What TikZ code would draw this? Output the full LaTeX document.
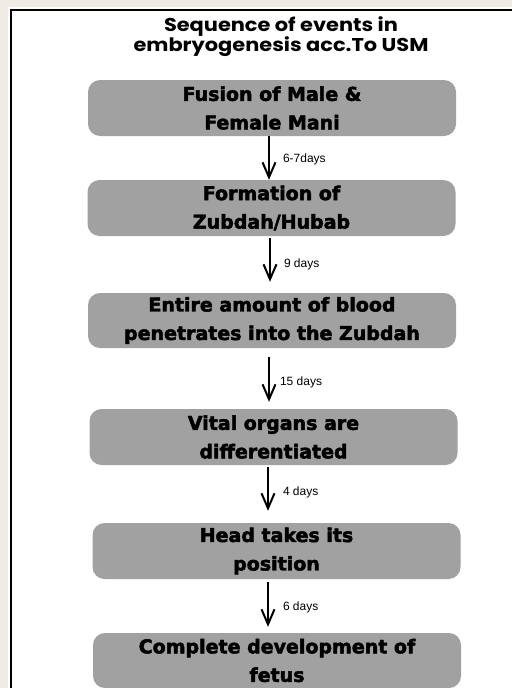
\documentclass[tikz,border=0pt]{standalone}
\usepackage{fontspec}
\setmainfont{DejaVu Sans}[BoldFeatures={FakeBold=2.5}]
\newfontfamily\labelfont{Liberation Sans}
\newfontfamily\titlefont{Poppins}[FakeStretch=1.13]
\usetikzlibrary{arrows.meta,positioning}
\definecolor{marble}{RGB}{239,235,228}
\definecolor{boxgray}{RGB}{161,161,161}

\begin{document}
\begin{tikzpicture}[
  x=1pt, y=-1pt,
  >={Straight Barb[length=15pt,width=13pt]},
  stepbox/.style={fill=boxgray, rounded corners=12pt, align=center, inner sep=0pt,
    minimum width=368pt, minimum height=56pt, font=\fontsize{19}{28.5}\selectfont\bfseries},
  arrow/.style={->, line width=2pt},
  days/.style={right, inner sep=0pt, font=\labelfont\fontsize{12}{14}\selectfont}
]
\useasboundingbox (0,0) rectangle (512,688);
% Hintergrund und Rahmen
\fill[marble] (0,0) rectangle (512,688);
\fill[white] (8,7) rectangle (512,688);
\draw[line width=2pt] (11,688) -- (11,10) -- (512,10);

\node[anchor=north, align=center, inner sep=0pt, font=\titlefont\bfseries\fontsize{18.5}{17.5}\selectfont] (title) at (281,16)
  {Sequence of events in\\embryogenesis acc.To USM};

\node[stepbox] (fusion) at (272,108) {Fusion of Male \&\\Female Mani};
\node[stepbox] (zubdah) at (271.5,208) {Formation of\\Zubdah/Hubab};
\node[stepbox, minimum height=55pt] (blood) at (272,320.5) {Entire amount of blood\\penetrates into the Zubdah};
\node[stepbox] (organs) at (273.5,437) {Vital organs are\\differentiated};
\node[stepbox] (head) at (276.5,551) {Head takes its\\position};
\node[stepbox, minimum height=55pt] (fetus) at (277,660.5) {Complete development of\\fetus};

\draw[arrow] ([xshift=-3pt]fusion.south) -- ([xshift=-2.5pt]zubdah.north)
  node[days, midway, xshift=13pt, yshift=-1pt] {6-7days};
\draw[arrow, shorten <=2pt, shorten >=11pt] ([xshift=-1.5pt]zubdah.south) -- ([xshift=-2pt]blood.north)
  node[days, midway, xshift=13pt] {9 days};
\draw[arrow, shorten <=9pt, shorten >=7pt] ([xshift=-3pt]blood.south) -- ([xshift=-4.5pt]organs.north)
  node[days, midway, xshift=10pt, yshift=-3.5pt] {15 days};
\draw[arrow, shorten <=2pt, shorten >=12pt] ([xshift=-5.5pt]organs.south) -- ([xshift=-8.5pt]head.north)
  node[days, midway, xshift=14pt, yshift=2pt] {4 days};
\draw[arrow, shorten <=3pt, shorten >=6pt] ([xshift=-8.5pt]head.south) -- ([xshift=-9pt]fetus.north)
  node[days, midway, xshift=14pt, yshift=-1pt] {6 days};
\end{tikzpicture}
\end{document}
